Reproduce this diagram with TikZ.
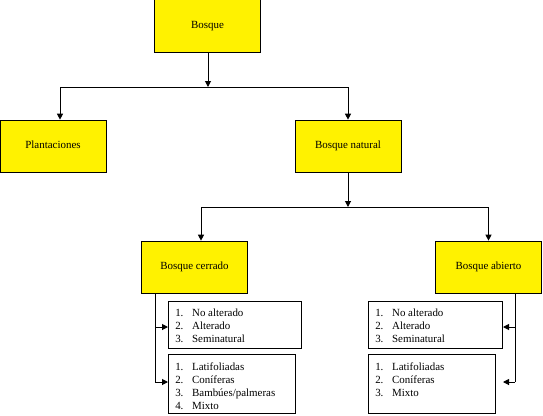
\documentclass[tikz,border=0pt]{standalone}
\usepackage{fontspec}
\setmainfont{Liberation Serif}
\usetikzlibrary{arrows.meta,calc}
\begin{document}
\begin{tikzpicture}[x=0.75pt,y=-0.75pt,
  ybox/.style={draw=black,line width=0.75pt,fill=yellow,inner sep=0pt,
    minimum width=79.5pt,minimum height=39.5pt,font=\fontsize{8.2}{10}\selectfont,
    text depth=2pt},
  lbox/.style={draw=black,line width=0.75pt,fill=white,inner sep=0pt,anchor=north west},
  ltext/.style={anchor=north west,inner sep=0pt,font=\fontsize{8.2}{9.75}\selectfont,align=left},
  conn/.style={line width=0.75pt},
  arr/.style={line width=0.75pt,-{Triangle[length=4.5pt,width=4.5pt]}}]
\useasboundingbox (0,0) rectangle (543,415);
% yellow boxes
\node[ybox] (bosque) at (207.5,26) {Bosque};
\node[ybox] (plant) at (53,146.5) {Plantaciones};
\node[ybox] (bn) at (348,146.5) {Bosque natural};
\node[ybox] (bc) at (194.5,267.5) {Bosque cerrado};
\node[ybox] (ba) at (488.5,267.5) {Bosque abierto};
% list boxes
\node[lbox,minimum width=99.75pt,minimum height=35.25pt] (c1) at (168,301) {};
\node[lbox,minimum width=95.25pt,minimum height=44.25pt] (c2) at (168,354) {};
\node[lbox,minimum width=100.5pt,minimum height=35.25pt] (a1) at (368,301) {};
\node[lbox,minimum width=95.25pt,minimum height=44.25pt] (a2) at (368,354) {};
\node[ltext] (c1t) at (175,309) {1.\hspace{6.5pt}No alterado\\2.\hspace{6.5pt}Alterado\\3.\hspace{6.5pt}Seminatural};
\node[ltext] (c2t) at (175,363) {1.\hspace{6.5pt}Latifoliadas\\2.\hspace{6.5pt}Coníferas\\3.\hspace{6.5pt}Bambúes/palmeras\\4.\hspace{6.5pt}Mixto};
\node[ltext] (a1t) at (375,309) {1.\hspace{6.5pt}No alterado\\2.\hspace{6.5pt}Alterado\\3.\hspace{6.5pt}Seminatural};
\node[ltext] (a2t) at (375,363) {1.\hspace{6.5pt}Latifoliadas\\2.\hspace{6.5pt}Coníferas\\3.\hspace{6.5pt}Mixto};
% junctions
\coordinate (j1) at (208,87);
\coordinate (j2) at (348,207);
\coordinate (cb) at (155,382);
\coordinate (cm) at (155,327);
\coordinate (ab) at (515,382);
\coordinate (am) at (515,327);
\coordinate (a2e) at (503,382);
% connectors
\draw[arr] (bosque.south -| j1) -- (j1);
\draw[arr] (j1) -| ($(plant.north)+(7,0)$);
\draw[arr] (j1) -| (bn.north);
\draw[arr] (bn.south) -- (j2);
\draw[arr] (j2) -| ($(bc.north)+(6.5,0)$);
\draw[arr] (j2) -| (ba.north);
\draw[conn] (bc.south -| cb) -- (cb);
\draw[arr] (cm) -- (cm -| c1.west);
\draw[arr] (cb) -- (cb -| c2.west);
\draw[conn] (ba.south -| ab) -- (ab);
\draw[arr] (am) -- (am -| a1.east);
\draw[arr] (ab) -- (a2e);
\end{tikzpicture}
\end{document}
